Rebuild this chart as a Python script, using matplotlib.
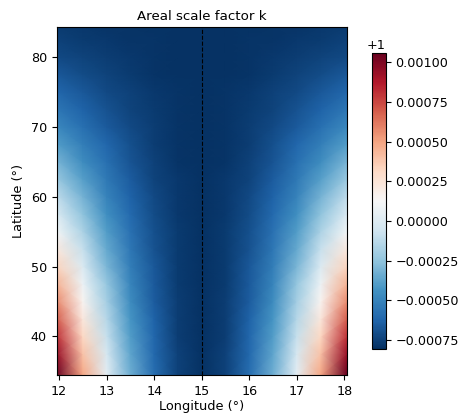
import numpy as np
import matplotlib
matplotlib.use("Agg")
import matplotlib.pyplot as plt

# longitudes of the table columns (deg) and latitudes of the rows (deg)
lons = [12.0, 12.5, 13.0, 13.5, 14.0, 14.5, 15.0, 15.5, 16.0, 16.5, 17.0, 17.5, 18.0]
lats = [34.5, 37.5, 40, 42.5, 45, 47.5, 50, 52.5, 55, 57.5, 60, 62.5,
        65, 67.5, 70, 72.5, 75, 77.5, 80, 82.5, 84.3]

# areal scale factor minus 1
# rows = lats, cols = lons 12 .. 15 (the field mirrors about 15)
half_rows = [
    [0.00106, 0.00049, 0.00003, -0.00033, -0.00059, -0.00075, -0.00080],
    [0.00093, 0.00040, -0.00003, -0.00037, -0.00061, -0.00075, -0.00080],
    [0.00081, 0.00032, -0.00009, -0.00040, -0.00062, -0.00076, -0.00080],
    [0.00069, 0.00023, -0.00014, -0.00043, -0.00063, -0.00076, -0.00080],
    [0.00057, 0.00015, -0.00019, -0.00046, -0.00065, -0.00076, -0.00080],
    [0.00045, 0.00007, -0.00024, -0.00049, -0.00066, -0.00077, -0.00080],
    [0.00033, -0.00001, -0.00030, -0.00052, -0.00067, -0.00077, -0.00080],
    [0.00022, -0.00009, -0.00035, -0.00055, -0.00069, -0.00077, -0.00080],
    [0.00010, -0.00017, -0.00040, -0.00057, -0.00070, -0.00077, -0.00080],
    [-0.00001, -0.00025, -0.00045, -0.00060, -0.00071, -0.00078, -0.00080],
    [-0.00011, -0.00032, -0.00050, -0.00063, -0.00072, -0.00078, -0.00080],
    [-0.00022, -0.00039, -0.00054, -0.00065, -0.00074, -0.00078, -0.00080],
    [-0.00031, -0.00046, -0.00058, -0.00068, -0.00075, -0.00079, -0.00080],
    [-0.00040, -0.00052, -0.00062, -0.00070, -0.00076, -0.00079, -0.00080],
    [-0.00048, -0.00058, -0.00066, -0.00072, -0.00076, -0.00079, -0.00080],
    [-0.00055, -0.00063, -0.00069, -0.00074, -0.00077, -0.00079, -0.00080],
    [-0.00062, -0.00067, -0.00072, -0.00075, -0.00078, -0.00079, -0.00080],
    [-0.00067, -0.00071, -0.00074, -0.00077, -0.00079, -0.00080, -0.00080],
    [-0.00072, -0.00074, -0.00076, -0.00078, -0.00079, -0.00080, -0.00080],
    [-0.00075, -0.00077, -0.00078, -0.00079, -0.00079, -0.00080, -0.00080],
    [-0.00077, -0.00078, -0.00079, -0.00079, -0.00080, -0.00080, -0.00080],
]
central_meridian = 15

half = np.array(half_rows)
k = 1 + np.hstack([half, half[:, -2::-1]])

# outer columns are half a grid cell (0.05 deg) wide beyond 12 and 18
x = np.array(lons)
x[0] -= 0.05
x[-1] += 0.05
X, Y = np.meshgrid(x, lats)

fig = plt.figure(figsize=(4.61, 4.18), dpi=100)
ax = fig.add_axes([0.123, 0.103, 0.629, 0.833])
cax = fig.add_axes([0.808, 0.164, 0.029, 0.710])

mesh = ax.pcolormesh(X, Y, k, cmap="RdBu_r", shading="gouraud",
                     vmin=1 - 0.00081, vmax=1 + 0.00106)
ax.axvline(central_meridian, color="k", ls="--", lw=0.8)
ax.set_xlim(x[0], x[-1])
ax.set_ylim(lats[0], lats[-1])
ax.set_xticks(range(12, 19))
ax.set_yticks([40, 50, 60, 70, 80])
ax.tick_params(labelsize=9.2)
ax.set_xlabel("Longitude (°)", fontsize=9.3, labelpad=2)
ax.set_ylabel("Latitude (°)", fontsize=9.3)
ax.set_title("Areal scale factor k", fontsize=9.6, pad=5)

cb = fig.colorbar(mesh, cax=cax)
cb.ax.tick_params(labelsize=9.2)
cb.ax.yaxis.get_offset_text().set_fontsize(9.2)

fig.savefig("out.png", dpi=100)
